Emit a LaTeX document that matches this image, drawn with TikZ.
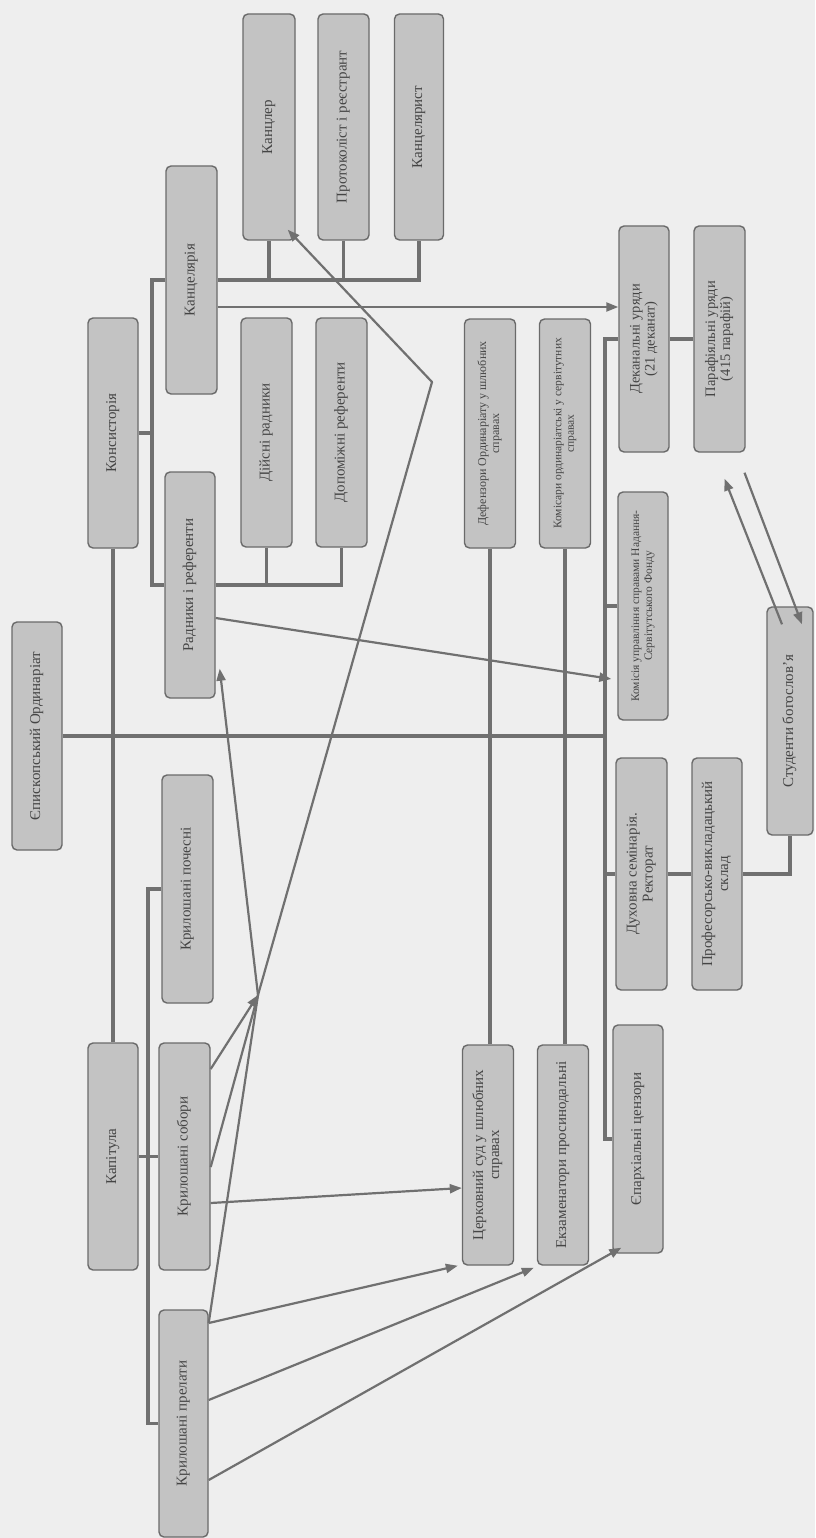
\documentclass[tikz,border=0pt]{standalone}
\usepackage{fontspec}
\setmainfont{Liberation Serif}
\usetikzlibrary{arrows.meta,calc}
\definecolor{bg}{HTML}{EEEEEE}
\definecolor{boxc}{HTML}{C3C3C3}
\definecolor{bordc}{HTML}{6A6A6A}
\definecolor{linec}{HTML}{707070}
\definecolor{txtc}{HTML}{454545}
\newcommand{\rt}[3]{\rotatebox{90}{\fontsize{#1}{#2}\selectfont\begin{tabular}{@{}c@{}}#3\end{tabular}}}
\tikzset{
  box/.style={draw=bordc, fill=boxc, line width=1.4pt, rounded corners=5pt, inner sep=0pt, text=txtc},
  tree/.style={draw=linec, line width=3.4pt},
  ln/.style={draw=linec, line width=2.2pt},
  arr/.style={draw=linec, line width=2.2pt, -{Triangle[length=12pt,width=9pt]}}
}
\begin{document}
\begin{tikzpicture}[x=1pt,y=-1pt]
\fill[bg] (0,0) rectangle (815,1538);
\useasboundingbox (0,0) rectangle (815,1538);

% boxes
\node[box, minimum width=50pt, minimum height=228pt] (ord) at (37,736) {\rt{15}{16}{Єпископський Ординаріат}};
\node[box, minimum width=50pt, minimum height=230pt] (kons) at (113,433) {\rt{15}{16}{Консисторія}};
\node[box, minimum width=51pt, minimum height=228pt] (kanc) at (191.5,280) {\rt{15}{16}{Канцелярія}};
\node[box, minimum width=50pt, minimum height=226pt] (radn) at (190,585) {\rt{15}{16}{Радники і референти}};
\node[box, minimum width=51pt, minimum height=229pt] (diysni) at (266.5,432.5) {\rt{15}{16}{Дійсні радники}};
\node[box, minimum width=51pt, minimum height=229pt] (dopom) at (341.5,432.5) {\rt{15}{16}{Допоміжні референти}};
\node[box, minimum width=52pt, minimum height=226pt] (kanclr) at (269,127) {\rt{15}{16}{Канцлер}};
\node[box, minimum width=51pt, minimum height=226pt] (protok) at (343.5,127) {\rt{15}{16}{Протоколіст і реєстрант}};
\node[box, minimum width=49pt, minimum height=226pt] (kanclst) at (419,127) {\rt{15}{16}{Канцелярист}};
\node[box, minimum width=51pt, minimum height=229pt] (defenz) at (490,433.5) {\rt{12}{13}{Дефензори Ординаріату у шлюбних\\справах}};
\node[box, minimum width=51pt, minimum height=229pt] (komisari) at (565,433.5) {\rt{11.5}{12.5}{Комісари ординаріатські у сервітутних\\справах}};
\node[box, minimum width=50pt, minimum height=226pt] (dekan) at (644,339) {\rt{14.5}{15}{Деканальні уряди\\(21 деканат)}};
\node[box, minimum width=51pt, minimum height=226pt] (paraf) at (719.5,339) {\rt{14.5}{15}{Парафіяльні уряди\\(415 парафій)}};
\node[box, minimum width=50pt, minimum height=228pt] (komisia) at (643,606) {\rt{11.5}{13}{Комісія управління справами Надання-\\Сервітутського Фонду}};
\node[box, minimum width=51pt, minimum height=232pt] (semin) at (641.5,874) {\rt{15}{16}{Духовна семінарія.\\Ректорат}};
\node[box, minimum width=50pt, minimum height=232pt] (profes) at (717,874) {\rt{15}{16}{Професорсько-викладацький\\склад}};
\node[box, minimum width=46pt, minimum height=228pt] (stud) at (790,721) {\rt{15}{16}{Студенти богослов’я}};
\node[box, minimum width=50pt, minimum height=227pt] (kapit) at (113,1156.5) {\rt{15}{16}{Капітула}};
\node[box, minimum width=51pt, minimum height=228pt] (krylpoch) at (187.5,889) {\rt{15}{16}{Крилошані почесні}};
\node[box, minimum width=51pt, minimum height=227pt] (krylsob) at (184.5,1156.5) {\rt{15}{16}{Крилошані собори}};
\node[box, minimum width=49pt, minimum height=227pt] (krylprel) at (183.5,1423.5) {\rt{15}{16}{Крилошані прелати}};
\node[box, minimum width=51pt, minimum height=220pt] (sud) at (488,1155) {\rt{15}{16}{Церковний суд у шлюбних\\справах}};
\node[box, minimum width=51pt, minimum height=220pt] (ekzam) at (563,1155) {\rt{15}{16}{Екзаменатори просинодальні}};
\node[box, minimum width=50pt, minimum height=228pt] (yeparkh) at (638,1139) {\rt{15}{16}{Єпархіальні цензори}};

% tree connectors
\coordinate (kb) at (152,433);
\coordinate (tt) at (605,339);
\coordinate (kv) at (148,1157);
\draw[tree] (kons.south) -- (kapit.north);
\draw[tree] (kons.east) -- (kb);
\draw[tree] (kanc.west) -| (kb);
\draw[tree] (radn.west) -| (kb);
\draw[tree] (radn.east) -| (dopom.south);
\draw[tree] (diysni.south) -- (diysni.south |- radn.east);
\draw[tree] (kanc.east) -| (kanclst.south);
\draw[tree] (kanclr.south) -- (kanclr.south |- kanc.east);
\draw[tree] (protok.south) -- (protok.south |- kanc.east);
\draw[tree] (dekan.west) -- (tt) |- (yeparkh.west);
\draw[tree] (komisia.west) -- (komisia.west -| tt);
\draw[tree] (semin.west) -- (semin.west -| tt);
\draw[tree] (ord.east) -- (ord.east -| tt);
\draw[tree] (dekan.east) -- (paraf.west);
\draw[tree] (semin.east) -- (profes.west);
\draw[tree] (profes.east) -| (stud.south);
\draw[tree] (defenz.south) -- (defenz.south |- sud.north);
\draw[tree] (komisari.south) -- (komisari.south |- ekzam.north);
\draw[tree] (kapit.east) -- (krylsob.west);
\draw[tree] (krylpoch.west) -| (kv);
\draw[tree] (krylprel.west) -| (kv);

% arrows
\coordinate (hub) at (258,995);
\coordinate (bend) at (432,382);
\draw[arr] (kanc.east |- 0,307) -- (dekan.west |- 0,307);
\draw[arr] (radn.east |- 0,618) -- ($(komisia.west)+(-6,73)$);
\draw[arr] (krylsob.east |- 0,1069) -- (hub);
\draw[ln] (krylsob.east |- 0,1167) -- (hub);
\draw[ln] (krylprel.east |- 0,1323) -- (hub);
\draw[arr] (hub) -- ($(radn.south east)+(4,-30)$);
\draw[arr, line join=round] (hub) -- (bend) -- ($(kanclr.south east)+(-8,-11)$);
\draw[arr] (krylsob.east |- 0,1203) -- (sud.west |- 0,1188);
\draw[arr] (krylprel.east |- 0,1323) -- ($(sud.south west)+(-4,0)$);
\draw[arr] (krylprel.east |- 0,1400) -- ($(ekzam.south west)+(-3,2)$);
\draw[arr] (krylprel.east |- 0,1480) -- ($(yeparkh.south west)+(9,-6)$);
\draw[arr] ($(stud.north)+(-8,18)$) -- ($(paraf.south)+(5,26)$);
\draw[arr] ($(paraf.south)+(25,20)$) -- ($(stud.north)+(12,18)$);
\end{tikzpicture}
\end{document}
